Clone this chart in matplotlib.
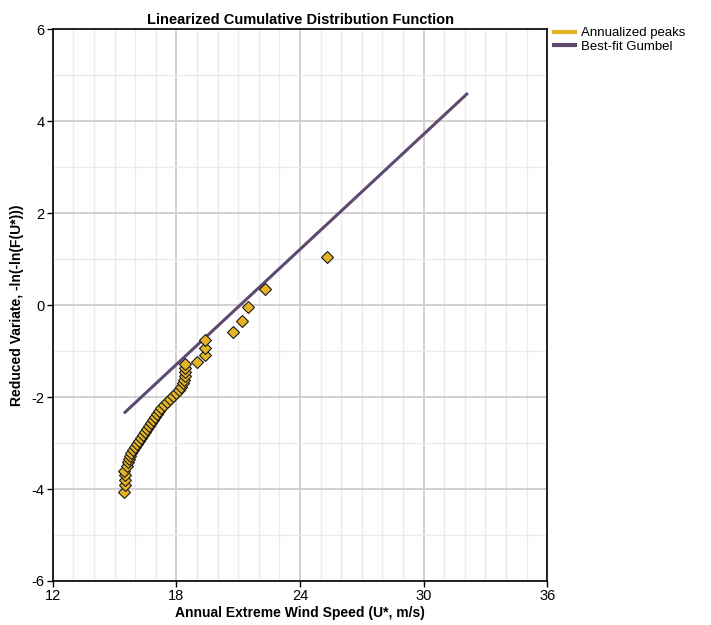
import numpy as np
import matplotlib.pyplot as plt
from matplotlib.ticker import MultipleLocator

plt.rcParams['font.family'] = ['Liberation Sans', 'DejaVu Sans']
plt.rcParams['axes.unicode_minus'] = False

# annualized peak wind speeds (m/s) and their reduced variates
peak_speed = [15.46, 15.51, 15.51, 15.51, 15.46, 15.60, 15.65, 15.70, 15.75, 15.80,
              15.90, 16.00, 16.09, 16.19, 16.28, 16.38, 16.48, 16.58, 16.67, 16.77,
              16.87, 16.96, 17.06, 17.16, 17.25, 17.40, 17.55, 17.69, 17.84, 17.98,
              18.13, 18.22, 18.32, 18.37, 18.42, 18.42, 18.42, 18.42, 18.98, 19.39,
              19.39, 19.39, 20.76, 21.17, 21.49, 22.30, 25.32]
reduced_var = [-4.06, -3.91, -3.80, -3.70, -3.60, -3.50, -3.41, -3.35, -3.28, -3.22,
               -3.15, -3.09, -3.02, -2.96, -2.89, -2.83, -2.76, -2.70, -2.63, -2.56,
               -2.50, -2.43, -2.37, -2.30, -2.24, -2.17, -2.11, -2.04, -1.98, -1.91,
               -1.85, -1.78, -1.70, -1.63, -1.54, -1.46, -1.37, -1.28, -1.23, -1.08,
               -0.94, -0.76, -0.59, -0.34, -0.03, 0.35, 1.05]

# Gumbel fit line end points
fit_speed = [15.51, 32.09]
fit_var = [-2.33, 4.59]

fig = plt.figure(figsize=(7.11, 6.25), dpi=100)
ax = fig.add_axes([0.0741, 0.0704, 0.6957, 0.8827])

ax.plot(fit_speed, fit_var, color='#5e4a6e', lw=2.2, label='Best-fit Gumbel', zorder=3)
ax.plot(peak_speed, reduced_var, ls='none', marker='D', ms=6.5, mfc='#e5b425',
        mec='#1a1a1a', mew=0.8, zorder=4)

ax.set_xlim(12, 36)
ax.set_ylim(-6, 6)
ax.xaxis.set_major_locator(MultipleLocator(6))
ax.xaxis.set_minor_locator(MultipleLocator(1))
ax.yaxis.set_major_locator(MultipleLocator(2))
ax.yaxis.set_minor_locator(MultipleLocator(1))
ax.grid(which='major', color='#d0d0d0', lw=1.4, zorder=0)
ax.grid(which='minor', color='#ebebeb', lw=1.0, zorder=0)
ax.set_axisbelow(True)
ax.tick_params(which='major', length=4, width=1, labelsize=10.5, pad=2)
ax.tick_params(which='minor', length=0)
for s in ax.spines.values():
    s.set_linewidth(1.2)

ax.set_title('Linearized Cumulative Distribution Function', fontsize=10.5,
             fontweight='bold', pad=4)
ax.set_xlabel('Annual Extreme Wind Speed (U*, m/s)', fontsize=10, fontweight='bold',
              labelpad=2)
ax.set_ylabel('Reduced Variate, -ln(-ln(F(U*)))', fontsize=10, fontweight='bold',
              labelpad=5)

# legend outside, to the right
h1, = ax.plot([], [], color='#e5b425', lw=3, label='Annualized peaks')
h2, = ax.plot([], [], color='#5e4a6e', lw=3, label='Best-fit Gumbel')
fig.legend(handles=[h1, h2], loc='upper left', bbox_to_anchor=(0.772, 0.965),
           frameon=False, fontsize=9.5, handlelength=1.6, handletextpad=0.4,
           labelspacing=0.1, borderaxespad=0)

fig.savefig('out.png', dpi=100)
